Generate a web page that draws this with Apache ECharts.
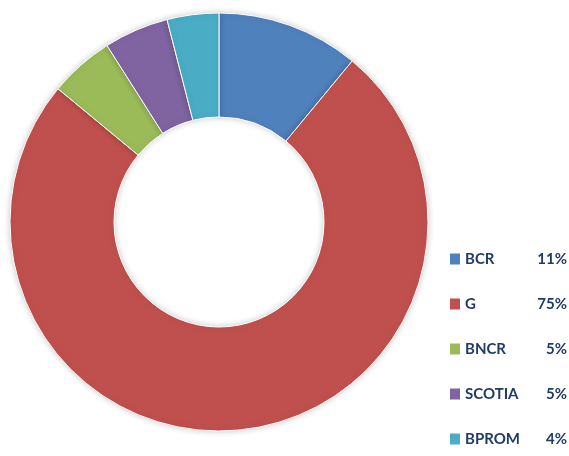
<!DOCTYPE html>
<html>
<head>
<meta charset="utf-8">
<script src="https://cdn.jsdelivr.net/npm/echarts@6/dist/echarts.min.js"></script>
<style>
  html, body { margin: 0; padding: 0; background: #fff; }
  #chart { width: 569px; height: 456px; }
</style>
</head>
<body>
<div id="chart"></div>
<script>
const banks = ['BCR', 'G', 'BNCR', 'SCOTIA', 'BPROM']
const shares = [11, 75, 5, 5, 4]
const colors = ['#4F81BD', '#C0504D', '#9BBB59', '#8064A2', '#4BACC6']

const myChart = echarts.init(document.getElementById('chart'))

// legend squares drawn as rich text so their size is exact
const rich = {
  g: { width: 5, height: 20 },
  n: { width: 71, height: 20, lineHeight: 20, fontFamily: 'Lato', fontWeight: 'bold', fontSize: 15, color: '#1F3B66' },
  p: { width: 31, height: 20, lineHeight: 20, align: 'right', fontFamily: 'Lato', fontWeight: 'bold', fontSize: 15, color: '#1F3B66' }
}
colors.forEach(function (c, i) {
  rich['s' + i] = { width: 10, height: 11, backgroundColor: c }
})

myChart.setOption({
  backgroundColor: '#ffffff',
  color: colors,
  legend: {
    orient: 'vertical',
    left: 445,
    top: 249,
    padding: 0,
    icon: 'none',
    itemWidth: 0,
    itemHeight: 20,
    itemGap: 25,
    formatter: function (name) {
      const i = banks.indexOf(name)
      return '{s' + i + '|}{g|}{n|' + name + '}{p|' + shares[i] + '%}'
    },
    textStyle: {
      fontFamily: 'Lato',
      fontWeight: 'bold',
      fontSize: 15,
      lineHeight: 20,
      color: '#1F3B66',
      rich: rich
    }
  },
  series: [
    {
      type: 'pie',
      center: [219, 222],
      radius: [105, 209],
      startAngle: 90,
      label: { show: false },
      labelLine: { show: false },
      silent: true,
      itemStyle: {
        borderColor: '#ffffff',
        borderWidth: 1,
        shadowBlur: 6,
        shadowColor: 'rgba(0,0,0,0.2)'
      },
      data: banks.map(function (b, i) {
        return { name: b, value: shares[i] }
      })
    }
  ]
})
</script>
</body>
</html>
